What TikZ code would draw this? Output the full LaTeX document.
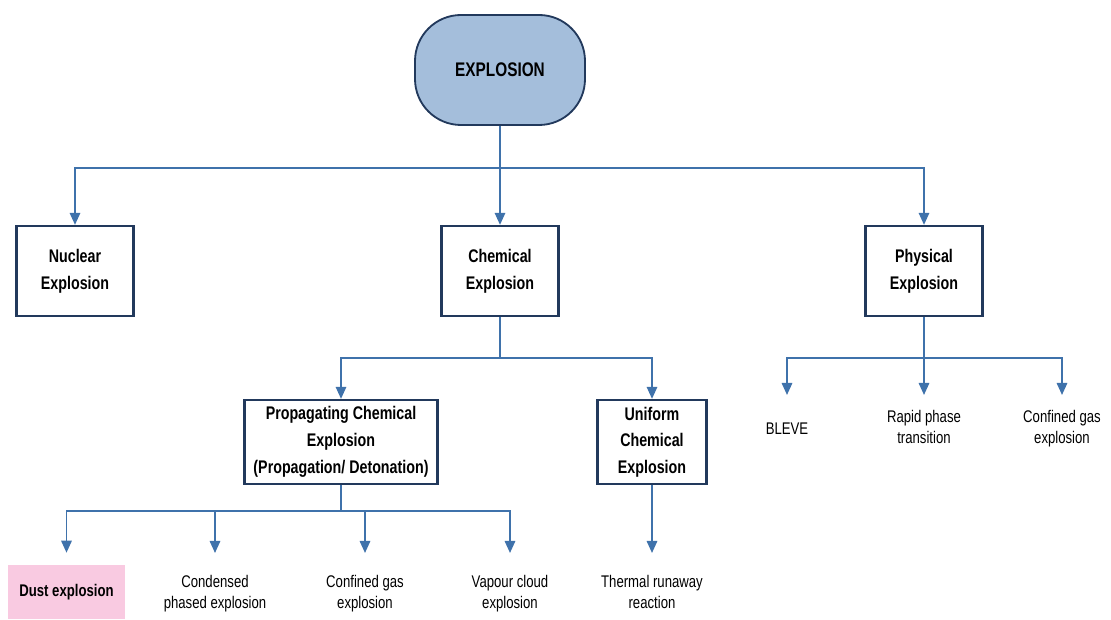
\documentclass[tikz,border=0pt]{standalone}
\usepackage{fontspec}
\setmainfont{Liberation Sans}
\newfontfamily\narrowfont[FakeStretch=0.78]{Liberation Sans}
\usepackage{tikz}
\usetikzlibrary{arrows.meta}

\definecolor{linkblue}{HTML}{3F72AB}
\definecolor{boxnavy}{HTML}{22395C}
\definecolor{rootfill}{HTML}{A4BEDB}
\definecolor{dustpink}{HTML}{F9CAE1}

\begin{document}
\begin{tikzpicture}[
    font=\narrowfont,
    box/.style={draw=boxnavy, line width=1.6pt, fill=white, align=center,
        font=\narrowfont\fontsize{13}{19}\selectfont\bfseries, inner sep=0pt},
    leaf/.style={align=center, anchor=north, inner ysep=0.55cm, inner xsep=1pt,
        font=\narrowfont\fontsize{12}{15}\selectfont},
    arr/.style={draw=linkblue, line width=1.3pt,
        -{Triangle[length=0.3cm, width=0.26cm]}},
    link/.style={draw=linkblue, line width=1.3pt}
]
    \useasboundingbox (0,0) rectangle (27.775,15.475);

    % --- Root ---
    \node[draw=boxnavy, line width=1.3pt, fill=rootfill, rounded corners=1.15cm,
        minimum width=4.25cm, minimum height=2.75cm,
        font=\narrowfont\fontsize{14}{16}\selectfont\bfseries] (root) at (12.5,13.725) {EXPLOSION};

    % --- First level ---
    \node[box, minimum width=2.925cm, minimum height=2.25cm] (nuclear) at (1.875,8.7) {Nuclear\\Explosion};
    \node[box, minimum width=2.925cm, minimum height=2.25cm] (chemical) at (12.5,8.7) {Chemical\\Explosion};
    \node[box, minimum width=2.925cm, minimum height=2.25cm] (physical) at (23.1,8.7) {Physical\\Explosion};

    \draw[link] (root.south) -- (12.5,11.275) coordinate (bus1);
    \draw[arr] (bus1) -| (nuclear.north);
    \draw[arr] (bus1) -| (physical.north);
    \draw[arr] (bus1) -- (chemical.north);

    % --- Chemical explosion ---
    \node[box, minimum width=4.825cm, minimum height=2.1cm] (propag) at (8.525,4.425)
        {Propagating Chemical\\Explosion\\(Propagation/ Detonation)};
    \node[box, minimum width=2.725cm, minimum height=2.1cm] (uniform) at (16.3,4.425)
        {Uniform\\Chemical\\Explosion};

    \draw[link] (chemical.south) -- (12.5,6.525) coordinate (bus2);
    \draw[arr] (bus2) -| (propag.north);
    \draw[arr] (bus2) -| (uniform.north);

    % --- Propagating explosion ---
    \node[fill=dustpink, minimum width=2.925cm, minimum height=1.35cm, inner sep=0pt,
        font=\narrowfont\fontsize{12}{15}\selectfont\bfseries] (dust) at (1.6625,0.675) {Dust explosion};
    \node[leaf] (condensed) at (5.375,1.65) {Condensed\\phased explosion};
    \node[leaf] (confchem) at (9.125,1.65) {Confined gas\\explosion};
    \node[leaf] (vapour) at (12.75,1.65) {Vapour cloud\\explosion};

    \draw[link] (propag.south) -- (8.525,2.7) coordinate (bus3);
    \draw[arr, shorten >=0.3cm] (bus3) -| (dust.north);
    \draw[arr] (bus3) -| (condensed.north);
    \draw[arr] (bus3) -| (confchem.north);
    \draw[arr] (bus3) -| (vapour.north);

    % --- Uniform explosion ---
    \node[leaf] (thermal) at (16.3,1.65) {Thermal runaway\\reaction};
    \draw[arr] (uniform.south) -- (thermal.north);

    % --- Physical explosion ---
    \node[leaf, inner ysep=0.7cm] (bleve) at (19.675,5.6) {BLEVE};
    \node[leaf, inner ysep=0.38cm] (rapid) at (23.1,5.6) {Rapid phase\\transition};
    \node[leaf, inner ysep=0.38cm] (confphys) at (26.55,5.6) {Confined gas\\explosion};

    \draw[link] (physical.south) -- (23.1,6.525) coordinate (bus4);
    \draw[arr] (bus4) -| (bleve.north);
    \draw[arr] (bus4) -| (confphys.north);
    \draw[arr] (bus4) -- (rapid.north);

\end{tikzpicture}
\end{document}
